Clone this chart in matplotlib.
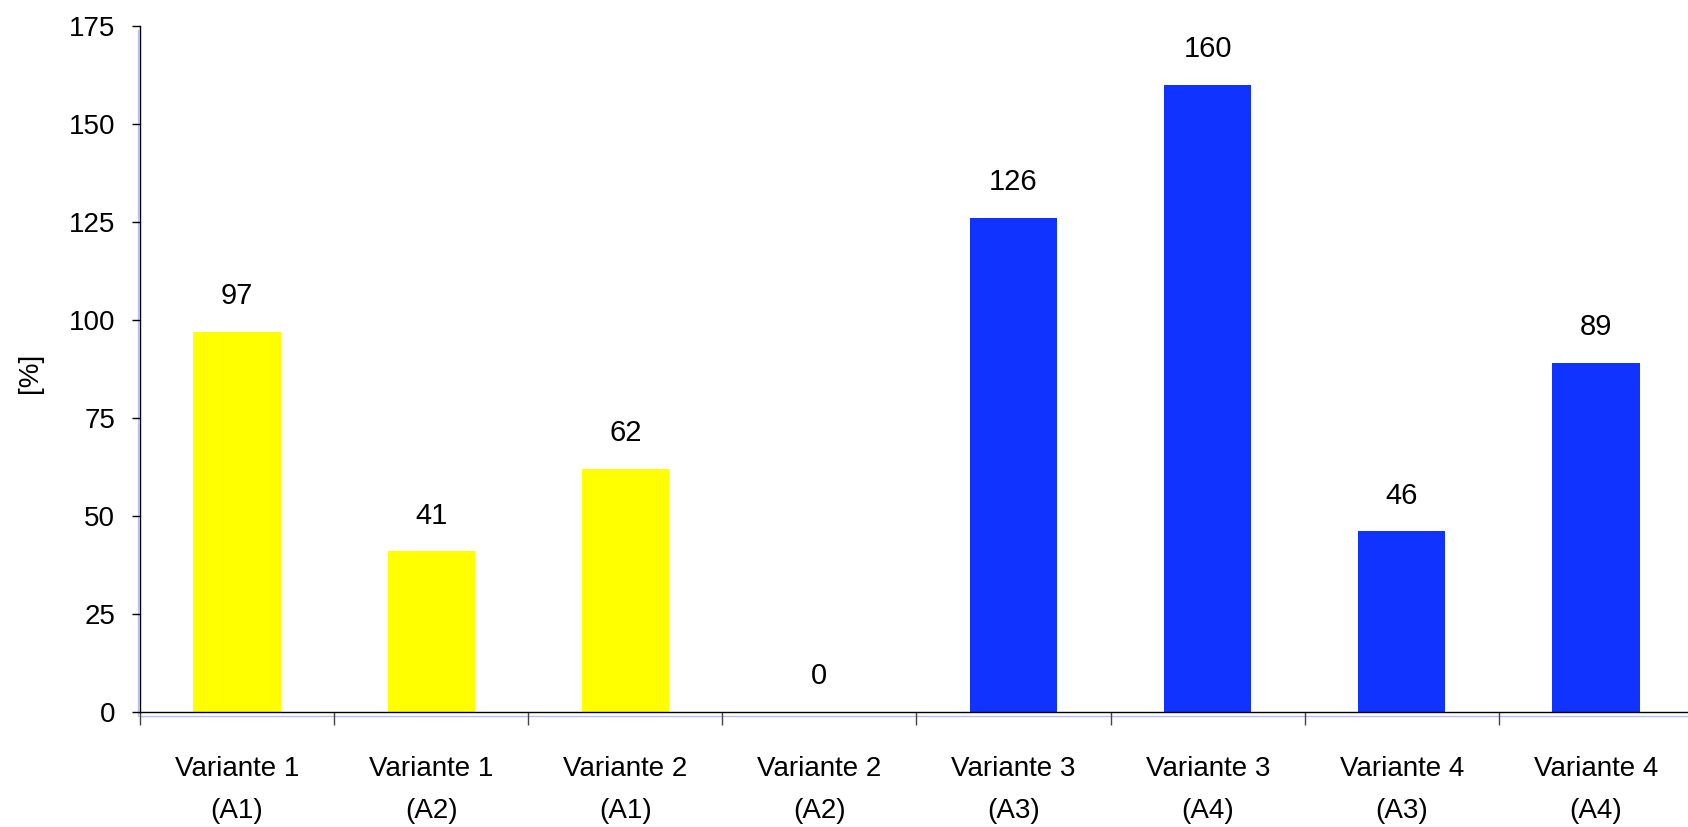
import matplotlib
matplotlib.use("Agg")
import matplotlib.pyplot as plt
import numpy as np

plt.rcParams['font.family'] = ['Liberation Sans', 'DejaVu Sans']

categories = ["Variante 1\n(A1)", "Variante 1\n(A2)", "Variante 2\n(A1)", "Variante 2\n(A2)",
              "Variante 3\n(A3)", "Variante 3\n(A4)", "Variante 4\n(A3)", "Variante 4\n(A4)"]
values = [97, 41, 62, 0, 126, 160, 46, 89]
bar_colors = ["#FFFF00", "#FFFF00", "#FFFF00", "#FFFF00",
              "#1133FF", "#1133FF", "#1133FF", "#1133FF"]
y_ticks = [0, 25, 50, 75, 100, 125, 150, 175]

W, H = 1688, 827
fig = plt.figure(figsize=(W / 100, H / 100), dpi=100)
ax = fig.add_axes([140 / W, 115.3 / H, 1553 / W, (801 - 115.3) / H])

x = np.arange(len(categories))
bars = ax.bar(x, values, width=0.45, color=bar_colors, zorder=2)
ax.bar_label(bars, labels=[str(v) for v in values], padding=15.5, fontsize=21)

ax.set_xlim(-0.5, len(categories) - 0.5)
ax.set_ylim(0, 175)
ax.set_yticks(y_ticks)
ax.tick_params(axis='y', direction='out', length=6, width=1, labelsize=20, pad=12)

# category boundaries as major ticks, labels on minor ticks at the centers
ax.set_xticks(np.arange(len(categories) + 1) - 0.5)
ax.set_xticklabels([])
ax.tick_params(axis='x', which='major', direction='out', length=9, width=1, color='#444444')
ax.set_xticks(x, minor=True)
ax.set_xticklabels(categories, minor=True, fontsize=20, linespacing=1.8)
ax.tick_params(axis='x', which='minor', length=0, pad=32)

fig.text(30 / W, 1 - 372.7 / H, "[%]", rotation=90, ha='center', va='center', fontsize=20)

for side in ("top", "right"):
    ax.spines[side].set_visible(False)
ax.spines["left"].set_linewidth(1)
ax.spines["bottom"].set_linewidth(1)

# faint plot-area border lines
ax.axhline(-1, color="#B8BEF0", lw=1, clip_on=False, zorder=1)
ax.axvline(-0.5 - 2 / 194, ymin=-1 / 175, ymax=174 / 175, color="#B8BEF0", lw=1,
           clip_on=False, zorder=1)

fig.savefig("out.png", dpi=100, facecolor="white")
